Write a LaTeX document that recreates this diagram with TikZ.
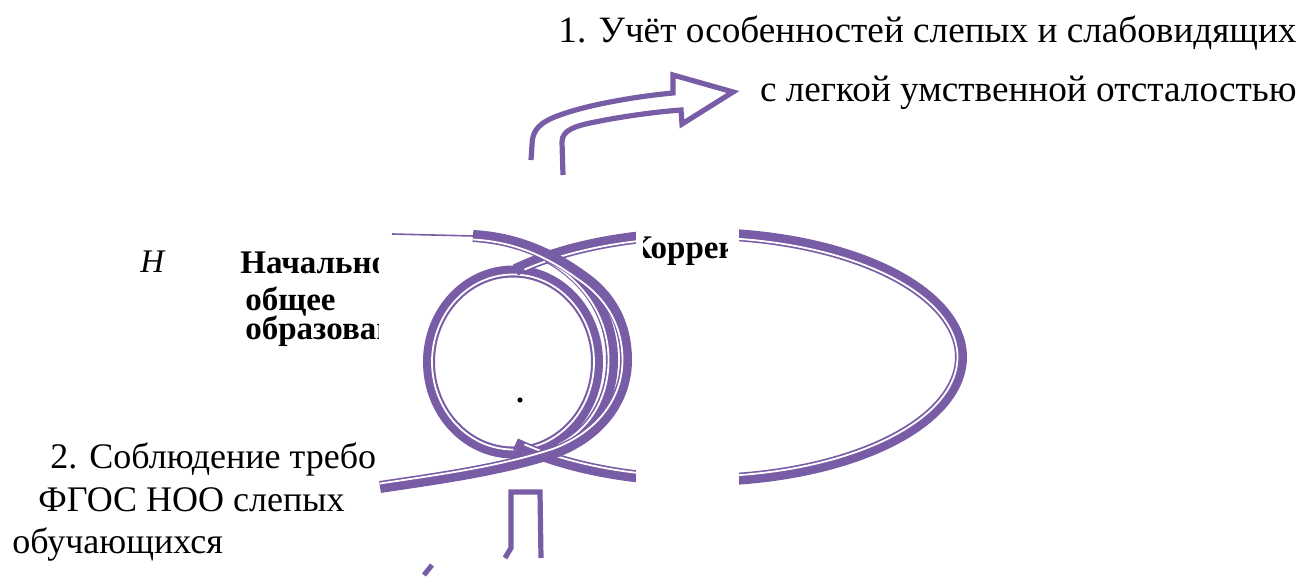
\documentclass[tikz,border=0pt]{standalone}
\usepackage{fontspec}
\setmainfont{Liberation Serif}
\definecolor{lilac}{RGB}{120,92,166}
\tikzset{
	band/.style={draw=lilac, line width=6pt},
	seam/.style={draw=white, line width=0.9pt},
	outline/.style={draw=lilac, line width=2.6pt, line join=miter},
	plain/.style={font=\fontsize{18}{22}\selectfont, inner sep=0pt},
	wide/.style={font=\fontsize{18.6}{22}\selectfont, inner sep=0pt},
	heavy/.style={font=\fontsize{16.5}{20}\selectfont\bfseries, inner sep=0pt},
}

\begin{document}
\begin{tikzpicture}[x=0.5pt, y=-0.5pt]
	\useasboundingbox (0,0) rectangle (1314,583);
	\draw[band] (513,362) circle [x radius=42pt, y radius=45.25pt];
	\draw[seam] (513,362) circle [x radius=40.5pt, y radius=43.75pt];
	\draw[band] plot[domain=-135:135, samples=90, smooth] ({700+261*cos(\x)}, {357+123*sin(\x)});
	\draw[seam] plot[domain=-133:133, samples=90, smooth] ({700+257.5*cos(\x)}, {357+119.5*sin(\x)});
	\draw[band] (548,257) .. controls (590,280) and (612,318) .. (612,360) .. controls (612,400) and (592,432) .. (560,448);
	\draw[seam] (546,260) .. controls (586,283) and (608.5,319) .. (608.5,360) .. controls (608.5,399) and (589,430) .. (558,445);
	\draw[lilac, line width=0.8pt] (392,234) to (474,236);
	\draw[band] (473,236) .. controls (510,238) and (545,250) .. (580,275) .. controls (615,298) and (626,330) .. (626,360) .. controls (626,400) and (600,435) .. (555,452) .. controls (500,470) and (440,478) .. (380,487);
	\draw[seam] (473,239.5) .. controls (510,241.5) and (543,253.5) .. (577,278.5) .. controls (611,301) and (622.5,331) .. (622.5,360) .. controls (622.5,398) and (598,431.5) .. (554,448.5) .. controls (500,466.5) and (440,474.5) .. (380,483.5);
	\fill[white] (636,215) rectangle (739,498);
	\draw[outline] (563,175) to (562,142) .. controls (562,130) and (575,126) .. (595,122) .. controls (625,116) and (655,112) .. (681,110) to (682,124) to (733,92) to (673,75) to (673,93) .. controls (640,96) and (590,104) .. (560,115) .. controls (540,122) and (532,130) .. (532,145) to (531,160);
	\draw[outline] (505,558) to (511,548) to (511,492) to (540,492) to (541,558);
	\draw[lilac, line width=2.5pt] (424,575) to (432,565);
	\fill (520,400) circle (1.3pt);
	\node[wide, anchor=base east] (dutyA) at (1297,43) {1. Учёт особенностей слепых и слабовидящих};
	\node[wide, anchor=base east] (dutyAb) at (1297,102) {с легкой умственной отсталостью};
	\node[plain, anchor=base west] (dutyB) at (50,468) {2. Соблюдение требо};
	\node[plain, anchor=base west] (dutyBb) at (38,511) {ФГОС НОО слепых};
	\node[plain, anchor=base west] (dutyBc) at (12,553) {обучающихся};
	\node[font=\fontsize{16.5}{20}\selectfont\itshape, inner sep=0pt, anchor=base west] (mark) at (140,272) {Н};
	\begin{scope}
		\clip (200,230) rectangle (378,350);
		\node[heavy, anchor=base west] (level) at (240,273) {Начально};
		\node[heavy, anchor=base west] (levelb) at (245,310) {общее};
		\node[heavy, anchor=base west] (levelc) at (245,340) {образован};
	\end{scope}
	\begin{scope}
		\clip (643,225) rectangle (727,270);
		\node[heavy, anchor=base west] (corr) at (628,258) {Коррек};
	\end{scope}
\end{tikzpicture}
\end{document}
